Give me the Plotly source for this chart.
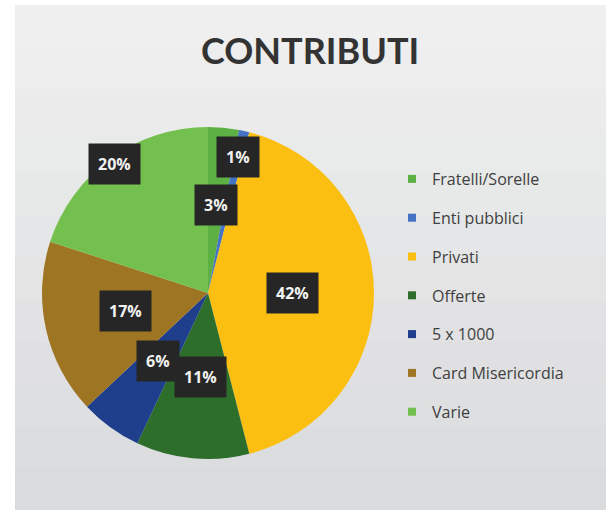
import math
import plotly.graph_objects as go

# ---- data ----
categories = ["Fratelli/Sorelle", "Enti pubblici", "Privati", "Offerte",
              "5 x 1000", "Card Misericordia", "Varie"]
values = [3, 1, 42, 11, 6, 17, 20]
colors = ["#5DB043", "#4472C4", "#FBBF12", "#2E6E2B", "#1F3E8C", "#9E7623", "#74C04E"]
title_text = "CONTRIBUTI"

# ---- style / layout ----
label_radius = [0.53, 0.84, 0.51, 0.51, 0.51, 0.51, 0.96]  # radial placement of % boxes
W, H = 606, 510
CX, CY, R = 208, 293, 166  # pie centre and radius in px

dom_x = [(CX - R) / W, (CX + R) / W]
dom_y = [1 - (CY + R) / H, 1 - (CY - R) / H]

fig = go.Figure()
fig.add_trace(go.Pie(
    labels=categories, values=values, sort=False, direction="clockwise",
    rotation=0, marker=dict(colors=colors, line=dict(width=0)),
    textinfo="none", showlegend=False, domain=dict(x=dom_x, y=dom_y),
    hovertemplate="%{label}: %{percent}<extra></extra>",
))

# legend entries (one group each, to control spacing)
for name, col in zip(categories, colors):
    fig.add_trace(go.Scatter(
        x=[None], y=[None], mode="markers", name=name, legendgroup=name,
        marker=dict(symbol="square", size=8, color=col), hoverinfo="skip",
    ))

# percentage label boxes, positioned from the data
total = sum(values)
cum = 0.0
annotations = []
for v, f in zip(values, label_radius):
    mid = cum + v / 2
    cum += v
    th = 2 * math.pi * mid / total
    px = CX + f * R * math.sin(th)
    py = CY - f * R * math.cos(th)
    annotations.append(dict(
        x=px / W, y=1 - py / H, xref="paper", yref="paper", showarrow=False,
        text=f"<b>{round(v / total * 100)}%</b>",
        font=dict(family="Open Sans", size=16, color="#F2F2F2"),
        bgcolor="#262626", borderpad=9, xanchor="center", yanchor="middle",
    ))

annotations.append(dict(
    x=0.512, y=1 - 50 / H, xref="paper", yref="paper", showarrow=False,
    text=f"<b>{title_text}</b>", xanchor="center", yanchor="middle",
    font=dict(family="Lato", size=36, color="#333333"),
))

# soft vertical gradient of the chart background (overlapping rects, no seams)
top_rgb, bot_rgb = (239, 239, 239), (218, 219, 221)
n_bands = 12
y_top = 1 - 5 / H
shapes = []
for i in range(n_bands):
    t = i / (n_bands - 1)
    c = tuple(round(a + (b - a) * t) for a, b in zip(top_rgb, bot_rgb))
    y1 = y_top - i * y_top / n_bands
    shapes.append(dict(type="rect", xref="paper", yref="paper", x0=15 / W, x1=1,
                       y0=0, y1=y1, fillcolor="rgb(%d,%d,%d)" % c,
                       line=dict(width=0), layer="below"))

fig.update_layout(
    width=W, height=H, margin=dict(l=0, r=0, t=0, b=0),
    paper_bgcolor="#FFFFFF", plot_bgcolor="rgba(0,0,0,0)",
    xaxis=dict(visible=False), yaxis=dict(visible=False),
    annotations=annotations, shapes=shapes,
    legend=dict(x=392 / W, y=1 - 162 / H, xanchor="left", yanchor="top",
                tracegroupgap=15, traceorder="grouped",
                bgcolor="rgba(0,0,0,0)",
                font=dict(family="Open Sans", size=16, color="#404040")),
)

fig.write_html("out.html", config={"displayModeBar": False},
               post_script="document.body.style.margin='0';")
